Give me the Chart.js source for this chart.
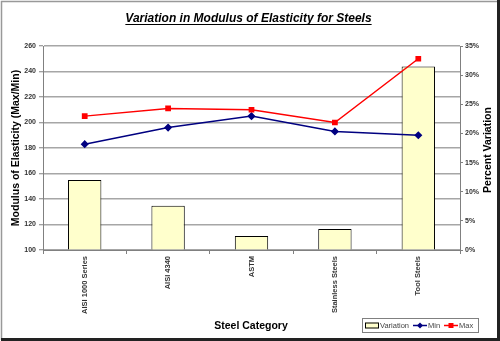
<!DOCTYPE html>
<html>
<head>
<meta charset="utf-8">
<script src="https://cdn.jsdelivr.net/npm/chart.js@4"></script>
<style>
  html, body { margin: 0; padding: 0; background: #fff; }
  canvas { display: block; }
</style>
</head>
<body>
<canvas id="steelChart" width="500" height="341"></canvas>
<script>
// data
const categories = ["AISI 1000 Series", "AISI 4340", "ASTM", "Stainless Steels", "Tool Steels"];
const variationPct = [12.0, 7.6, 2.4, 3.6, 31.5];
const minModulus = [183, 196, 205, 193, 190];
const maxModulus = [205, 211, 210, 200, 250];

// axis ranges
const leftMin = 100, leftMax = 260, leftStep = 20;
const rightMin = 0, rightMax = 35, rightStep = 5;

const FONT = "Arial, 'Liberation Sans', sans-serif";
const TICK = "#333";
const AXIS = "#808080";
const GRID = "#a6a6a6";

//titles, legend and outer frame drawn on the canvas
const decor = {
  id: "decor",
  beforeDraw(chart) {
    const ctx = chart.ctx;
    ctx.save();
    ctx.fillStyle = "#fff";
    ctx.fillRect(0, 0, chart.width, chart.height);
    ctx.restore();
  },
  afterDraw(chart) {
    const ctx = chart.ctx;
    ctx.save();
    ctx.fillStyle = "#000";
    ctx.textAlign = "center";
    ctx.textBaseline = "alphabetic";

    //title, underlined
    const title = "Variation in Modulus of Elasticity for Steels";
    ctx.font = "italic bold 12px " + FONT;
    ctx.fillText(title, 248.5, 22);
    const tw = ctx.measureText(title).width;
    ctx.strokeStyle = "#000";
    ctx.lineWidth = 1;
    ctx.beginPath();
    ctx.moveTo(248.5 - tw / 2, 24.5);
    ctx.lineTo(248.5 + tw / 2, 24.5);
    ctx.stroke();

    //axis titles
    ctx.font = "bold 10.5px " + FONT;
    ctx.textBaseline = "middle";
    ctx.fillText("Steel Category", 251, 326);

    ctx.save();
    ctx.translate(16, 148);
    ctx.rotate(-Math.PI / 2);
    ctx.fillText("Modulus of Elasticity (Max/Min)", 0, 0);
    ctx.restore();

    ctx.save();
    ctx.translate(488, 150);
    ctx.rotate(-Math.PI / 2);
    ctx.fillText("Percent Variation", 0, 0);
    ctx.restore();

    //legend box
    const lx = 362, ly = 318, lw = 116, lh = 14;
    ctx.strokeStyle = "#808080";
    ctx.lineWidth = 1;
    ctx.strokeRect(lx + 0.5, ly + 0.5, lw, lh);
    const cy = ly + lh / 2 + 0.5;
    ctx.font = "7.5px " + FONT;
    ctx.fillStyle = "#444";
    ctx.textAlign = "left";

    //Variation swatch
    ctx.fillStyle = "#FFFFCC";
    ctx.fillRect(365, cy - 3, 14, 6);
    ctx.strokeStyle = "#000";
    ctx.strokeRect(365.5, cy - 2.5, 13, 5);
    ctx.fillStyle = "#444";
    ctx.fillText("Variation", 380, cy);

    //Min
    ctx.strokeStyle = "#000080";
    ctx.lineWidth = 1.5;
    ctx.beginPath();
    ctx.moveTo(413, cy);
    ctx.lineTo(427, cy);
    ctx.stroke();
    ctx.fillStyle = "#000080";
    ctx.beginPath();
    ctx.moveTo(420, cy - 3);
    ctx.lineTo(423, cy);
    ctx.lineTo(420, cy + 3);
    ctx.lineTo(417, cy);
    ctx.closePath();
    ctx.fill();
    ctx.fillStyle = "#444";
    ctx.fillText("Min", 428, cy);

    //Max
    ctx.strokeStyle = "#FF0000";
    ctx.beginPath();
    ctx.moveTo(444, cy);
    ctx.lineTo(458, cy);
    ctx.stroke();
    ctx.fillStyle = "#FF0000";
    ctx.fillRect(448.5, cy - 2.5, 5, 5);
    ctx.fillStyle = "#444";
    ctx.fillText("Max", 459, cy);

    //outer frame with shadow
    ctx.strokeStyle = "#999";
    ctx.lineWidth = 1.5;
    ctx.beginPath();
    ctx.moveTo(1.5, 340);
    ctx.lineTo(1.5, 1.5);
    ctx.lineTo(497, 1.5);
    ctx.stroke();
    ctx.fillStyle = "#222";
    ctx.fillRect(497, 0, 3, 341);
    ctx.fillRect(1, 338, 499, 3);
    ctx.restore();
  }
};

function buildChart() {
  const ctx = document.getElementById("steelChart").getContext("2d");

  new Chart(ctx, {
    type: "bar",
    data: {
      labels: categories,
      datasets: [
        {
          type: "line",
          label: "Min",
          data: minModulus,
          yAxisID: "y",
          borderColor: "#000080",
          backgroundColor: "#000080",
          borderWidth: 1.5,
          pointStyle: "rectRot",
          pointRadius: 3,
          tension: 0,
          order: 1
        },
        {
          type: "line",
          label: "Max",
          data: maxModulus,
          yAxisID: "y",
          borderColor: "#FF0000",
          backgroundColor: "#FF0000",
          borderWidth: 1.5,
          pointStyle: "rect",
          pointRadius: 3,
          tension: 0,
          order: 0
        },
        {
          type: "bar",
          label: "Variation",
          data: variationPct,
          yAxisID: "y1",
          backgroundColor: "#FFFFCC",
          borderColor: "#000",
          borderWidth: 1,
          categoryPercentage: 1,
          barPercentage: 0.4,
          order: 2
        }
      ]
    },
    options: {
      responsive: false,
      animation: false,
      layout: { padding: { top: 46, left: 0, right: 0, bottom: 0 } },
      plugins: {
        legend: { display: false },
        title: { display: false },
        tooltip: { enabled: false }
      },
      scales: {
        x: {
          type: "category",
          offset: true,
          grid: {
            offset: true,
            drawOnChartArea: false,
            drawTicks: true,
            tickLength: 4,
            color: AXIS
          },
          border: { color: AXIS, width: 1 },
          ticks: {
            autoSkip: false,
            minRotation: 90,
            maxRotation: 90,
            padding: 2,
            color: TICK,
            font: { family: FONT, size: 7.5, weight: "bold" }
          },
          afterFit: s => { s.height = 91; }
        },
        y: {
          position: "left",
          min: leftMin,
          max: leftMax,
          ticks: {
            stepSize: leftStep,
            padding: 3,
            color: TICK,
            font: { family: FONT, size: 7, weight: "bold" }
          },
          grid: {
            color: GRID,
            lineWidth: 1.5,
            tickColor: AXIS,
            tickWidth: 1,
            tickLength: 4
          },
          border: { color: AXIS, width: 1 },
          afterFit: s => { s.width = 43; }
        },
        y1: {
          position: "right",
          min: rightMin,
          max: rightMax,
          ticks: {
            stepSize: rightStep,
            padding: 2,
            color: TICK,
            font: { family: FONT, size: 7, weight: "bold" },
            callback: v => v + "%"
          },
          grid: {
            drawOnChartArea: false,
            color: AXIS,
            tickLength: 3
          },
          border: { color: AXIS, width: 1 },
          afterFit: s => { s.width = 40; }
        }
      }
    },
    plugins: [decor]
  });
}

document.addEventListener("DOMContentLoaded", buildChart);
</script>
</body>
</html>
